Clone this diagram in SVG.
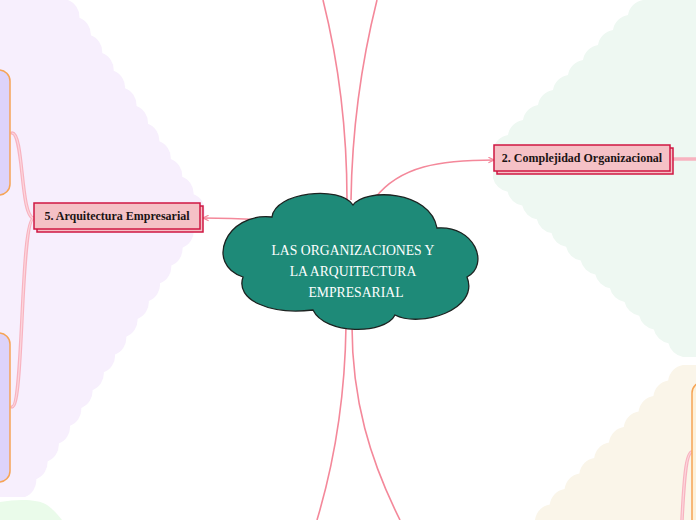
<svg xmlns="http://www.w3.org/2000/svg" width="696" height="520" viewBox="0 0 696 520">
<defs>
<style>
.thin{fill:none;stroke:#f4889a;stroke-width:1.6}
.thick{fill:none;stroke:#f8b3c0;stroke-width:3.5;stroke-linecap:round}
.thickin{fill:none;stroke:#fcd6dd;stroke-width:1.2}
.box{fill:#f5c1c6;stroke:#cf1743;stroke-width:1.5}
.lbl{font-family:"Liberation Serif","DejaVu Serif",serif;font-weight:bold;font-size:12px;fill:#1c1414}
.ctext{font-family:"Liberation Serif","DejaVu Serif",serif;font-size:13.7px;fill:#ffffff;text-anchor:middle}
.sub{fill:#ddd3fa;stroke:#f6a455;stroke-width:1.5}
</style>
<marker id="arr" viewBox="0 0 10 10" refX="9" refY="5" markerWidth="7" markerHeight="7" orient="auto" markerUnits="userSpaceOnUse">
<path d="M1,1 L9,5 L1,9" fill="none" stroke="#f4889a" stroke-width="1.6"/>
</marker>
</defs>
<rect width="696" height="520" fill="#ffffff"/>
<g id="backgrounds">
<path fill="#f7effd" d="M0,0 L68,0 a18,18 0 0 1 11.42,17.67 a18,18 0 0 1 11.42,17.67 a18,18 0 0 1 11.42,17.67 a18,18 0 0 1 11.42,17.67 a18,18 0 0 1 11.42,17.67 a18,18 0 0 1 11.42,17.67 a18,18 0 0 1 11.42,17.67 a18,18 0 0 1 11.42,17.67 a18,18 0 0 1 11.42,17.67 a18,18 0 0 1 11.42,17.67 a18,18 0 0 1 11.42,17.67 a18,18 0 0 1 11.42,17.67 a18,18 0 0 1 -11.25,17.81 a18,18 0 0 1 -11.25,17.81 a18,18 0 0 1 -11.25,17.81 a18,18 0 0 1 -11.25,17.81 a18,18 0 0 1 -11.25,17.81 a18,18 0 0 1 -11.25,17.81 a18,18 0 0 1 -11.25,17.81 a18,18 0 0 1 -11.25,17.81 a18,18 0 0 1 -11.25,17.81 a18,18 0 0 1 -11.25,17.81 a18,18 0 0 1 -11.25,17.81 a18,18 0 0 1 -11.25,17.81 a18,18 0 0 1 -11.25,17.81 a18,18 0 0 1 -11.25,17.81 a18,18 0 0 1 -11.25,17.81 a18,18 0 0 1 -11.25,17.81 L0,497 Z"/>
<path fill="#eef8f2" d="M696,0 L643,0 a18,18 0 0 0 -15,15 a18,18 0 0 0 -15,15 a18,18 0 0 0 -15,15 a18,18 0 0 0 -15,15 a18,18 0 0 0 -15,15 a18,18 0 0 0 -15,15 a18,18 0 0 0 -15,15 a18,18 0 0 0 -15,15 a18,18 0 0 0 -15,15 a18,18 0 0 0 -15,15 L493,178 a18,18 0 0 0 14.62,13.77 a18,18 0 0 0 14.62,13.77 a18,18 0 0 0 14.62,13.77 a18,18 0 0 0 14.62,13.77 a18,18 0 0 0 14.62,13.77 a18,18 0 0 0 14.62,13.77 a18,18 0 0 0 14.62,13.77 a18,18 0 0 0 14.62,13.77 a18,18 0 0 0 14.62,13.77 a18,18 0 0 0 14.62,13.77 a18,18 0 0 0 14.62,13.77 a18,18 0 0 0 14.62,13.77 a18,18 0 0 0 14.62,13.77 L696,357 Z"/>
<path fill="#faf5e9" d="M696,365 L683,365 a18,18 0 0 0 -14.8,15.5 a18,18 0 0 0 -14.8,15.5 a18,18 0 0 0 -14.8,15.5 a18,18 0 0 0 -14.8,15.5 a18,18 0 0 0 -14.8,15.5 a18,18 0 0 0 -14.8,15.5 a18,18 0 0 0 -14.8,15.5 a18,18 0 0 0 -14.8,15.5 a18,18 0 0 0 -14.8,15.5 a18,18 0 0 0 -14.8,15.5 L696,520 Z"/>
<path fill="#eafbea" d="M0,502 C18,499 38,499 47,505 C54,510 58,515 62,520 L0,520 Z"/>
</g>
<g id="connectors">
<path class="thin" d="M347,200 C347,130 338,60 323,0"/>
<path class="thin" d="M351,200 C352,130 362,60 377,0"/>
<path class="thin" d="M346,326 C345,400 335,460 317,520"/>
<path class="thin" d="M352,326 C352,400 370,460 400,520"/>
<path class="thin" d="M272,221 C245,218 225,218 203,218" marker-end="url(#arr)"/>
<path class="thin" d="M375,198 C400,166 440,160 494,160" marker-end="url(#arr)"/>
<path class="thick" d="M673,159 L696,159"/>
<path class="thick" d="M34,218 C20,218 24,133 12,133"/>
<path class="thick" d="M34,218 C20,218 24,407 12,407"/>
<path class="thick" d="M692,452 C686,452 684,480 682,520"/>
<path class="thickin" d="M34,218 C20,218 24,133 12,133"/>
<path class="thickin" d="M34,218 C20,218 24,407 12,407"/>
<path class="thickin" d="M692,452 C686,452 684,480 682,520"/>
</g>
<g id="center">
<path fill="#1e8a78" stroke="#1d2321" stroke-width="1.3" d="M272,217 C275,192 340,185 353,205 C365,188 430,190 437,228 C475,225 490,265 467,277 C480,310 420,328 395,315 C385,335 325,335 313,310 C270,315 235,300 243,277 C205,265 225,212 272,217 Z"/>
<text class="ctext" x="353" y="255">LAS ORGANIZACIONES Y</text>
<text class="ctext" x="353" y="276">LA ARQUITECTURA</text>
<text class="ctext" x="356" y="297">EMPRESARIAL</text>
</g>
<g id="node5">
<rect class="box" x="37" y="206" width="166" height="26"/>
<rect class="box" x="34" y="203" width="166" height="26"/>
<text class="lbl" x="117" y="220" text-anchor="middle">5. Arquitectura Empresarial</text>
</g>
<g id="node2">
<rect class="box" x="497" y="148" width="176" height="26"/>
<rect class="box" x="494" y="145" width="176" height="26"/>
<text class="lbl" x="582" y="162" text-anchor="middle">2. Complejidad Organizacional</text>
</g>
<g id="sub5a"><rect class="sub" x="-20" y="70" width="30" height="125" rx="11"/></g>
<g id="sub5b"><rect class="sub" x="-20" y="333" width="30" height="149" rx="11"/></g>
<g id="sub3"><rect x="692" y="382" width="30" height="160" rx="11" fill="#fdf1da" stroke="#f6a455" stroke-width="1.5"/></g>
</svg>
